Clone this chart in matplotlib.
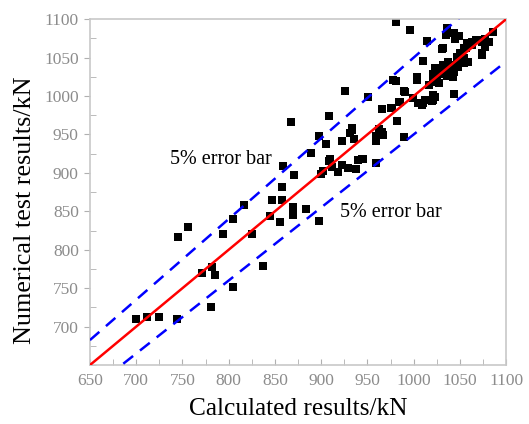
import matplotlib
matplotlib.use("Agg")
import matplotlib.pyplot as plt
from matplotlib.ticker import MultipleLocator
import numpy as np

calc = [700, 712, 725, 744, 745, 756, 771, 782, 785, 781, 794, 805, 805, 816, 825,
        837, 847, 858, 858, 845, 855, 870, 869, 884, 898, 867, 908, 898, 905, 889,
        859, 871, 923, 931, 933, 908, 902, 900, 912, 918, 923, 929, 938, 940, 944,
        981, 996, 1014, 1036, 1035, 1043, 1049, 1045, 1031, 1010, 978, 981, 1003, 1004, 926,
        951, 966, 975, 984, 991, 999, 1005, 1009, 1012, 1021, 982, 990, 1044, 1016, 1025,
        1029, 1036, 1042, 1023, 1032, 1037, 1047, 1050, 1054, 1058, 1063, 1067, 1074, 1077, 1081,
        1086, 1074, 1059, 1054, 1048, 1043, 962, 966, 967, 959, 933, 935, 959, 909, 1021,
        989, 1010, 1020, 1023, 985, 977, 959, 945, 1032, 1069, 1063, 1056, 1077, 1074, 1052,
        1054, 1047, 1040, 1037, 1025, 1032, 1021, 1027, 1021, 1021]
test = [710, 713, 713, 710, 817, 830, 770, 778, 767, 726, 821, 752, 840, 858, 821,
        779, 865, 865, 882, 844, 836, 856, 845, 853, 838, 966, 974, 948, 938, 926,
        909, 897, 942, 952, 956, 916, 903, 899, 908, 901, 910, 906, 905, 917, 918,
        1096, 1086, 1071, 1088, 1079, 1082, 1078, 1074, 1061, 1045, 1021, 1019, 1025, 1021, 1006,
        999, 983, 984, 992, 1005, 997, 991, 988, 995, 995, 968, 947, 1003, 1014, 1021,
        1029, 1026, 1025, 1036, 1040, 1044, 1051, 1056, 1062, 1069, 1070, 1073, 1070, 1074, 1070,
        1083, 1056, 1044, 1043, 1038, 1031, 957, 953, 949, 948, 958, 944, 913, 918, 1029,
        1006, 991, 993, 999, 992, 984, 942, 918, 1062, 1073, 1066, 1062, 1064, 1053, 1056,
        1049, 1044, 1040, 1031, 1034, 1030, 1018, 1017, 1001, 997]

axis_min, axis_max = 650, 1100
ticks = list(range(650, 1101, 50))
label_pos = [(737, 917), (920, 848)]

plt.rcParams['font.family'] = ['Liberation Serif', 'DejaVu Serif']

fig = plt.figure(figsize=(5.29, 4.24), dpi=100)
ax = fig.add_axes([0.170, 0.139, 0.787, 0.816])

ax.scatter(calc, test, marker='s', s=30, color='black', linewidths=0, zorder=2)

xs = np.array([axis_min, axis_max])
ax.plot(xs, xs, color='#ff0000', lw=1.8, zorder=3)
ax.plot(xs, xs * 1.05, color='#0000ff', lw=1.8, dashes=(5, 3.5), zorder=3)
ax.plot(xs, xs * 0.95, color='#0000ff', lw=1.8, dashes=(5, 3.5), zorder=3)

for (lx, ly) in label_pos:
    ax.text(lx, ly, '5% error bar', fontsize=14.5, color='black', va='center', ha='left')

ax.set_xlim(axis_min, axis_max)
ax.set_ylim(axis_min, axis_max)
ax.set_xticks(ticks)
ax.set_yticks(ticks[1:])
ax.xaxis.set_minor_locator(MultipleLocator(25))
ax.yaxis.set_minor_locator(MultipleLocator(25))

gray = '#8c8c8c'
for s in ax.spines.values():
    s.set_color('#c8c8c8')
    s.set_linewidth(1.2)
ax.tick_params(axis='both', which='both', colors='#b0b0b0',
               labelcolor=gray, labelsize=12.5)
ax.tick_params(axis='x', which='both', direction='in', length=4, pad=6)
ax.tick_params(axis='y', which='major', direction='out', length=4, pad=4)
ax.tick_params(axis='y', which='minor', direction='in', length=4)

ax.set_xlabel('Calculated results/kN', fontsize=18.3, labelpad=6)
ax.set_ylabel('Numerical test results/kN', fontsize=18.8)
ax.yaxis.set_label_coords(-0.13, 0.448)

fig.savefig('out.png', dpi=100)
